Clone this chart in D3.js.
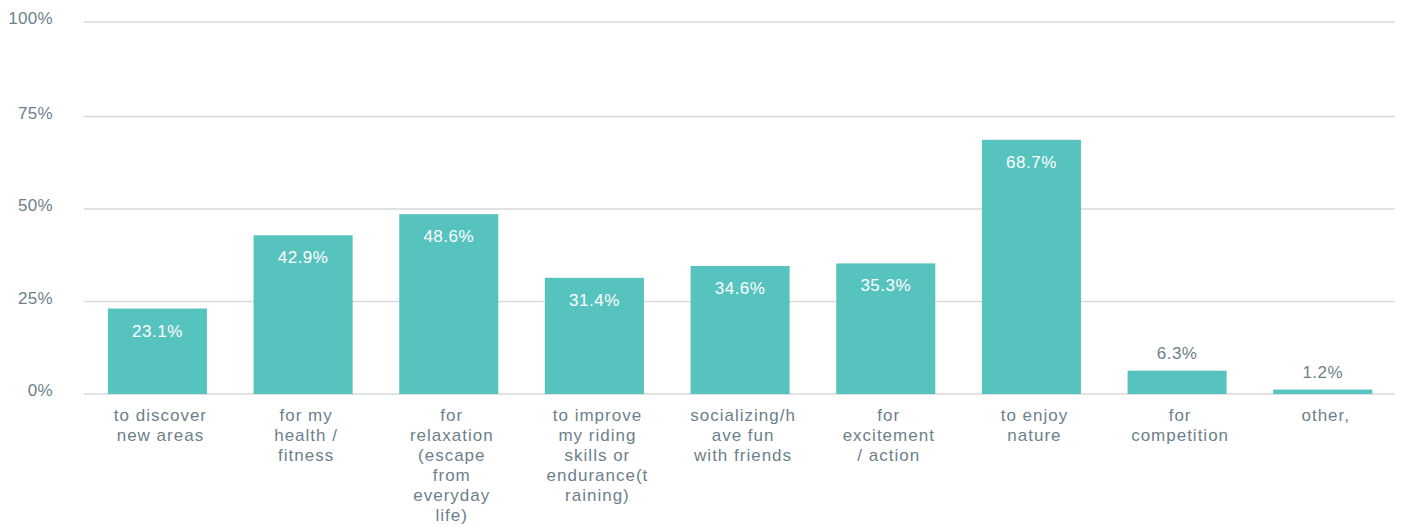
<!DOCTYPE html>
<html><head><meta charset="utf-8">
<script src="https://cdn.jsdelivr.net/npm/d3@7"></script>
<style>body{margin:0;background:#fff;}svg{display:block;}</style>
</head><body>
<svg id="c" width="1405" height="527"></svg>
<script>
const categories = [
  "to discover|new areas",
  "for my|health /|fitness",
  "for|relaxation|(escape|from|everyday|life)",
  "to improve|my riding|skills or|endurance(t|raining)",
  "socializing/h|ave fun|with friends",
  "for|excitement|/ action",
  "to enjoy|nature",
  "for|competition",
  "other,"
];
const values = [23.1, 42.9, 48.6, 31.4, 34.6, 35.3, 68.7, 6.3, 1.2];
const tickValues = [0, 25, 50, 75, 100];
const tickLabels = ["0%", "25%", "50%", "75%", "100%"];

(function () {
const svg = d3.select("#c");
const mLeft = 84.6, mRight = 1395.6, mTop = 24, mBottom = 394;
const font = "'Liberation Sans', Arial, sans-serif";
const gray = "#6d7f8b";

const x = d3.scaleBand().domain(d3.range(categories.length)).range([mLeft, mRight]).paddingInner(0.32).paddingOuter(0.16);
const y = d3.scaleLinear().domain([0, 100]).range([mBottom, mTop]);
const gridY = d => d === 100 ? 22 : y(d);

svg.append("g").selectAll("line").data(tickValues).join("line")
  .attr("x1", 84).attr("x2", 1395)
  .attr("y1", d => gridY(d)).attr("y2", d => gridY(d))
  .attr("stroke", "#d9d9d9").attr("stroke-width", 1.5);

svg.append("g").selectAll("text").data(tickValues).join("text")
  .attr("x", 53).attr("y", d => gridY(d) + 2)
  .attr("text-anchor", "end")
  .attr("font-family", font).attr("font-size", 17)
  .attr("letter-spacing", "0.3px")
  .attr("fill", gray)
  .text((d, i) => tickLabels[i]);

svg.append("g").selectAll("rect").data(values).join("rect")
  .attr("x", (d, i) => x(i))
  .attr("width", x.bandwidth())
  .attr("y", d => y(d))
  .attr("height", d => y(0) - y(d))
  .attr("fill", "#57c3bf");

svg.append("g").selectAll("text").data(values).join("text")
  .attr("x", (d, i) => x(i) + x.bandwidth() / 2)
  .attr("y", d => (y(0) - y(d)) > 40 ? y(d) + 28 : y(d) - 12)
  .attr("text-anchor", "middle")
  .attr("font-family", font).attr("font-size", 17)
  .attr("letter-spacing", "0.5px")
  .attr("fill", d => (y(0) - y(d)) > 40 ? "#ffffff" : gray)
  .text(d => d.toFixed(1) + "%");

const cg = svg.append("g");
categories.forEach((c, i) => {
  const cx = x(i) + x.bandwidth() / 2 + 3;
  const t = cg.append("text")
    .attr("x", cx).attr("y", 421)
    .attr("text-anchor", "middle")
    .attr("font-family", font).attr("font-size", 17)
    .attr("letter-spacing", "1px")
    .attr("fill", gray);
  c.split("|").forEach((line, j) => {
    t.append("tspan").attr("x", cx).attr("y", 421 + j * 20).text(line);
  });
});
})();
</script>
</body></html>
